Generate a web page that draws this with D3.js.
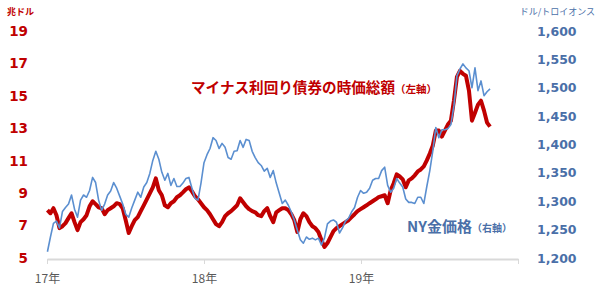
<!DOCTYPE html>
<html><head><meta charset="utf-8">
<script src="https://cdn.jsdelivr.net/npm/d3@7"></script>
<style>
html,body{margin:0;padding:0;background:#fff;}
svg{display:block;}
</style></head>
<body><svg id="c" width="600" height="300"></svg>
<script>
// ---- data (weekly, starting 2017-01-02) ----
const startDate = new Date(2017, 0, 2);
const negYieldDebt = [ // 兆ドル (left axis)
7.95,7.76,8.07,7.64,6.84,6.96,7.15,7.46,7.76,7.21,
6.72,7.21,7.39,7.64,8.19,8.50,8.32,8.13,8.07,7.70,
7.95,8.07,8.19,8.38,8.32,8.07,7.33,6.54,6.96,7.33,
7.52,7.89,8.25,8.62,8.99,9.36,9.91,9.18,8.87,8.25,
8.13,8.38,8.50,8.75,8.87,9.05,9.24,9.36,9.11,8.81,
8.62,8.38,8.13,7.95,7.70,7.39,7.09,6.96,7.21,7.58,
7.76,7.89,8.07,8.25,8.68,8.44,8.19,8.01,7.89,7.82,
7.64,7.58,7.89,8.07,7.58,7.21,7.82,7.95,8.07,8.07,
7.95,7.70,7.33,6.60,7.39,7.76,7.58,7.21,6.96,6.84,
6.60,6.11,5.68,5.92,6.29,6.66,6.84,6.96,7.09,7.21,
7.33,7.52,7.70,7.89,8.01,8.13,8.25,8.38,8.50,8.62,
8.75,8.81,8.87,8.38,9.18,9.61,10.16,10.03,9.85,9.36,
9.79,9.91,10.10,10.34,10.46,10.65,11.02,11.45,11.94,12.86,
12.86,12.49,12.86,13.23,13.47,14.70,16.17,16.54,16.36,16.24,
15.32,13.47,13.96,14.46,14.70,14.09,13.35,13.10];
const goldPrice = [ // ドル/トロイオンス (right axis)
1211,1237,1261,1265,1253,1282,1289,1295,1311,1286,
1272,1302,1311,1307,1319,1342,1333,1302,1284,1295,
1311,1318,1333,1323,1309,1295,1277,1272,1288,1302,
1316,1307,1325,1333,1349,1372,1388,1374,1351,1337,
1349,1328,1340,1326,1326,1332,1340,1342,1323,1305,
1302,1332,1368,1382,1393,1412,1407,1393,1402,1395,
1377,1374,1388,1389,1407,1395,1409,1407,1388,1377,
1368,1363,1353,1358,1342,1354,1332,1314,1296,1302,
1293,1281,1267,1249,1232,1226,1237,1233,1235,1232,
1235,1223,1235,1260,1265,1267,1263,1244,1253,1265,
1270,1281,1289,1307,1319,1314,1316,1323,1337,1340,
1340,1354,1360,1328,1316,1323,1340,1332,1325,1304,
1298,1298,1296,1307,1307,1296,1326,1354,1389,1430,
1412,1426,1426,1428,1435,1468,1521,1533,1542,1535,
1530,1500,1535,1495,1512,1486,1493,1498];
const leftTicks = [5, 7, 9, 11, 13, 15, 17, 19];
const rightTicks = [1200, 1250, 1300, 1350, 1400, 1450, 1500, 1550, 1600];
const yearTicks = [new Date(2017,0,1), new Date(2018,0,1), new Date(2019,0,1), new Date(2020,0,1)];
const labels = {
  leftUnit: "兆ドル",
  rightUnit: "ドル/トロイオンス",
  red: "マイナス利回り債券の時価総額",
  redSub: "（左軸）",
  blue: "NY金価格",
  blueSub: "（右軸）"
};

// ---- drawing ----
const RED = "#c00000", BLUE = "#5b8fd0", BLUE_TXT = "#4a6fa8";
const jp = "'Noto Sans CJK JP','Noto Sans',sans-serif";
const num = "'DejaVu Sans',Verdana,sans-serif";

const dates = negYieldDebt.map((_, i) => d3.timeDay.offset(startDate, 7 * i));
const svg = d3.select("#c");

const x = d3.scaleTime().domain([new Date(2017,0,1), new Date(2020,0,1)]).range([47, 518]);
const yL = d3.scaleLinear().domain([5, 19]).range([258, 31]);
const yR = d3.scaleLinear().domain([1200, 1600]).range([258, 31]);

// x axis
const xa = svg.append("g").attr("transform", "translate(0,259)")
  .call(d3.axisBottom(x).tickValues(yearTicks).tickSize(5).tickSizeOuter(0).tickPadding(10)
    .tickFormat(d => d.getFullYear() === 2020 ? "" : d3.timeFormat("%y")(d) + "年"));
xa.select(".domain").attr("stroke", "#d9d9d9").attr("stroke-width", 2);
xa.selectAll(".tick line").attr("stroke", "#d9d9d9");
xa.selectAll("text").attr("fill", "#595959").style("font-family", jp).style("font-size", "12px");

// left axis
const la = svg.append("g").attr("transform", "translate(28,0)")
  .call(d3.axisLeft(yL).tickValues(leftTicks).tickSize(0).tickPadding(0));
la.select(".domain").remove();
la.selectAll("text").attr("fill", RED).style("font-family", num)
  .style("font-size", "13.5px").style("font-weight", "bold");

// right axis
const ra = svg.append("g").attr("transform", "translate(537,0)")
  .call(d3.axisRight(yR).tickValues(rightTicks).tickSize(0).tickPadding(0).tickFormat(d3.format(",")));
ra.select(".domain").remove();
ra.selectAll("text").attr("fill", BLUE_TXT).style("font-family", num)
  .style("font-size", "12.5px").style("font-weight", "bold");

// unit labels
svg.append("text").attr("x", 7).attr("y", 15).text(labels.leftUnit)
  .attr("fill", RED).style("font-family", jp).style("font-size", "9px").style("font-weight", "bold");
svg.append("text").attr("x", 595).attr("y", 15).attr("text-anchor", "end").text(labels.rightUnit)
  .attr("fill", BLUE_TXT).style("font-family", jp).style("font-size", "9px");

// lines
const redLine = d3.line().x((d, i) => x(dates[i])).y(d => yL(d));
const blueLine = d3.line().x((d, i) => x(dates[i])).y(d => yR(d));
svg.append("path").datum(negYieldDebt).attr("d", redLine)
  .attr("fill", "none").attr("stroke", RED).attr("stroke-width", 4).attr("stroke-linejoin", "round");
svg.append("path").datum(goldPrice).attr("d", blueLine)
  .attr("fill", "none").attr("stroke", BLUE).attr("stroke-width", 1.6).attr("stroke-linejoin", "round");

// annotations
const t1 = svg.append("text").attr("x", 191).attr("y", 93).style("font-family", jp).attr("fill", RED);
t1.append("tspan").text(labels.red).style("font-size", "14.6px").style("font-weight", "bold");
t1.append("tspan").text(labels.redSub).style("font-size", "10.5px").style("font-weight", "bold");
const t2 = svg.append("text").attr("x", 407).attr("y", 232).style("font-family", jp).attr("fill", BLUE_TXT);
t2.append("tspan").text(labels.blue).style("font-size", "15px").style("font-weight", "bold");
t2.append("tspan").text(labels.blueSub).style("font-size", "10px").style("font-weight", "bold");
</script>
</body></html>
